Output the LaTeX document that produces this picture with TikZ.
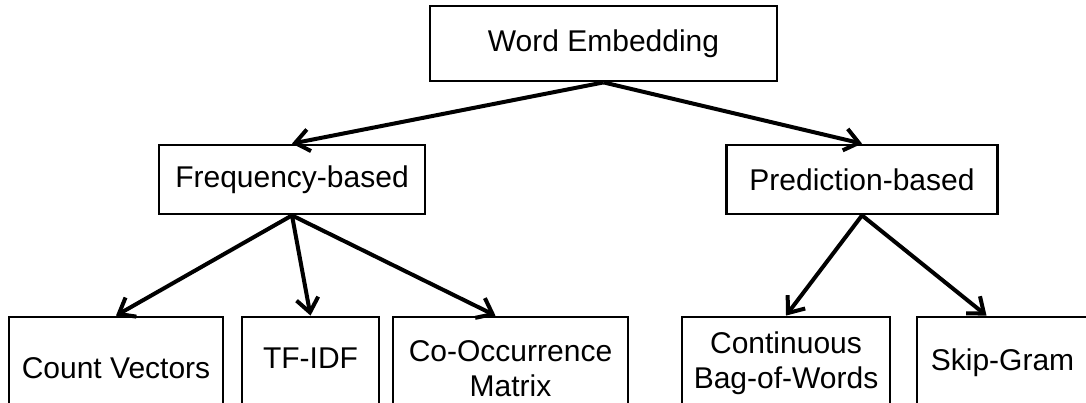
\documentclass[tikz,border=0pt]{standalone}
\usepackage{fontspec}
\setmainfont{Liberation Sans}
\usetikzlibrary{arrows.meta}
\tikzstyle{box} = [rectangle, minimum height=34.5pt, text centered, draw=black, line width=1.4pt, fill=white, font=\fontsize{15}{17.5}\selectfont]
\tikzstyle{leaf} = [box, minimum height=60pt, align=center, text height=11pt]
\tikzstyle{arrow} = [line width=2pt, -{Straight Barb[length=7pt,width=11pt]}]

\begin{document}
\begin{tikzpicture}[node distance=68pt]
    \useasboundingbox (0,0) rectangle (543pt,201pt);

    \node (we) [box, minimum width=173.5pt, minimum height=37.5pt] at (301.75pt,179.25pt) {Word Embedding};
    \node (freq) [box, minimum width=133pt, below of=we, xshift=-155.75pt] {Frequency-based};
    \node (pred) [box, minimum width=135.5pt, below of=we, xshift=129.25pt] {Prediction-based};

    \node (count) [leaf, minimum width=107pt, text depth=10pt, below of=freq, xshift=-88pt, yshift=-30.75pt] {Count Vectors};
    \node (tfidf) [leaf, minimum width=68.5pt, text depth=20pt, below of=freq, xshift=9.25pt, yshift=-30.75pt] {TF-IDF};
    \node (cooc) [leaf, minimum width=117.5pt, text height=19pt, text depth=0pt, below of=freq, xshift=109.25pt, yshift=-30.75pt] {Co-Occurrence\\Matrix};
    \node (cbow) [leaf, minimum width=104pt, text depth=0pt, below of=pred, xshift=-38pt, yshift=-30.75pt] {Continuous\\Bag-of-Words};
    \node (skip) [leaf, minimum width=85.5pt, text depth=18pt, below of=pred, xshift=70.25pt, yshift=-30.75pt] {Skip-Gram};

    \draw [arrow] (we.south) -- (freq.north);
    \draw [arrow] (we.south) -- (pred.north);
    \draw [arrow] (freq.south) -- (count.north);
    \draw [arrow] (freq.south) -- (tfidf.north);
    \draw [arrow] (freq.south) -- ([xshift=-7.5pt]cooc.north);
    \draw [arrow] (pred.south) -- (cbow.north);
    \draw [arrow] (pred.south) -- ([xshift=-8pt]skip.north);
\end{tikzpicture}
\end{document}
